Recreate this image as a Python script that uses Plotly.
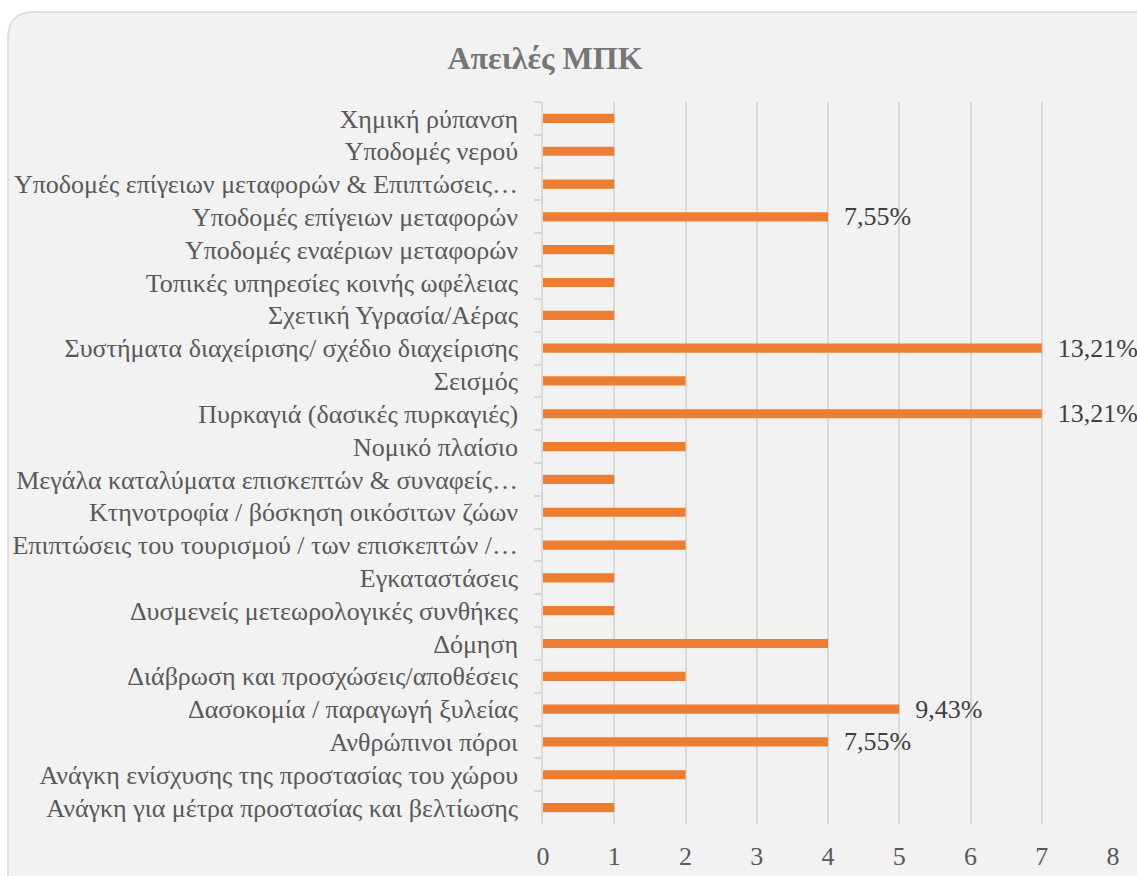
import plotly.graph_objects as go

categories = [
    "Χημική ρύπανση",
    "Υποδομές νερού",
    "Υποδομές επίγειων μεταφορών & Επιπτώσεις…",
    "Υποδομές επίγειων μεταφορών",
    "Υποδομές εναέριων μεταφορών",
    "Τοπικές υπηρεσίες κοινής ωφέλειας",
    "Σχετική Υγρασία/Αέρας",
    "Συστήματα διαχείρισης/ σχέδιο διαχείρισης",
    "Σεισμός",
    "Πυρκαγιά (δασικές πυρκαγιές)",
    "Νομικό πλαίσιο",
    "Μεγάλα καταλύματα επισκεπτών & συναφείς…",
    "Κτηνοτροφία / βόσκηση οικόσιτων ζώων",
    "Επιπτώσεις του τουρισμού / των επισκεπτών /…",
    "Εγκαταστάσεις",
    "Δυσμενείς μετεωρολογικές συνθήκες",
    "Δόμηση",
    "Διάβρωση και προσχώσεις/αποθέσεις",
    "Δασοκομία / παραγωγή ξυλείας",
    "Ανθρώπινοι πόροι",
    "Ανάγκη ενίσχυσης της προστασίας του χώρου",
    "Ανάγκη για μέτρα προστασίας και βελτίωσης",
]
values = [1, 1, 1, 4, 1, 1, 1, 7, 2, 7, 2, 1, 2, 2, 1, 1, 4, 2, 5, 4, 2, 1]
labels = ["", "", "", "7,55%", "", "", "", "13,21%", "", "13,21%", "", "",
          "", "", "", "", "", "", "9,43%", "7,55%", "", ""]
x_ticks = [0, 1, 2, 3, 4, 5, 6, 7, 8]

FONT = "Liberation Serif"
W, H = 1137, 876
ml, mr, mt, mb = 543, 24, 102, 52
pw, ph = W - ml - mr, H - mt - mb


def px_x(p):
    return (p - ml) / pw


def px_y(p):
    return (H - mb - p) / ph


fig = go.Figure()
fig.add_trace(go.Bar(
    y=categories,
    x=values,
    orientation="h",
    marker=dict(color="#ed7d31", line=dict(width=0)),
    text=labels,
    texttemplate="\u00a0\u00a0%{text}",
    textposition="outside",
    constraintext="none",
    textfont=dict(family=FONT, size=26, color="#404040"),
    cliponaxis=False,
    width=0.28,
    hoverinfo="x+y",
))

# rounded background panel
x0, x1 = px_x(8), px_x(1160)
y0, y1 = px_y(12), px_y(900)
rx, ry = 26 / pw, 26 / ph
path = (f"M {x0 + rx},{y0} L {x1},{y0} L {x1},{y1} L {x0},{y1} "
        f"L {x0},{y0 - ry} Q {x0},{y0} {x0 + rx},{y0} Z")
fig.add_shape(type="path", path=path, xref="paper", yref="paper",
              fillcolor="#f2f2f2", line=dict(color="#d9d9d9", width=1.5),
              layer="below")

fig.update_layout(
    width=W, height=H,
    margin=dict(l=ml, r=mr, t=mt, b=mb, autoexpand=False),
    paper_bgcolor="white",
    plot_bgcolor="rgba(0,0,0,0)",
    showlegend=False,
    title=dict(text="<b>Απειλές ΜΠΚ</b>", xref="container", yref="container",
               x=545 / W, y=1 - 58 / H, xanchor="center", yanchor="middle",
               font=dict(family=FONT, size=32, color="#767676")),
    font=dict(family=FONT, size=26, color="#595959"),
    xaxis=dict(range=[0, 8], tickvals=x_ticks, showgrid=True, gridcolor="#d9d9d9",
               gridwidth=2, zeroline=False, showline=False, ticks="", automargin=False,
               ticklabelstandoff=14, tickfont=dict(family=FONT, size=26, color="#595959")),
    yaxis=dict(autorange="reversed", type="category", showline=True, linecolor="#d9d9d9",
               linewidth=1.5, ticks="outside", tickson="boundaries", ticklen=7,
               tickcolor="#d9d9d9", tickwidth=1.5, showgrid=False, automargin=False,
               ticklabelstandoff=18, tickfont=dict(family=FONT, size=26, color="#595959")),
)

fig.write_html("out.html", config={"displayModeBar": False},
               post_script="document.body.style.margin='0';")
